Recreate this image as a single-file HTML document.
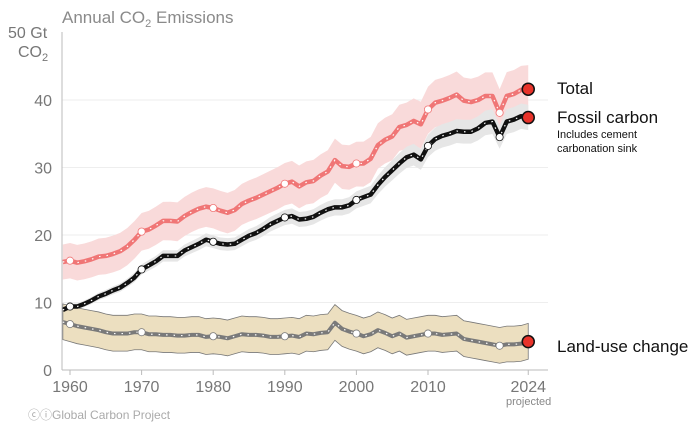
<!DOCTYPE html>
<html><head><meta charset="utf-8"><style>
body{margin:0;background:#fff;width:700px;height:429px;overflow:hidden}
svg text{font-family:"Liberation Sans",sans-serif}
</style></head><body>
<svg id="c" width="700" height="429">
<text x="62" y="23" font-size="17" fill="#8a8a8a">Annual CO<tspan font-size="11" dy="4">2</tspan><tspan dy="-4"> Emissions</tspan></text>
<text x="8" y="38" font-size="16" fill="#777">50 Gt</text>
<text x="18" y="57" font-size="16" fill="#777">CO<tspan font-size="11" dy="4">2</tspan></text>
<g id="grid"></g><g id="bands"></g><g id="lines"></g><g id="axes"></g>
<text x="557" y="94" font-size="17" fill="#111">Total</text>
<text x="557" y="123" font-size="17" fill="#111">Fossil carbon</text>
<text x="557" y="138" font-size="11" fill="#111">Includes cement</text>
<text x="557" y="152" font-size="11" fill="#111">carbonation sink</text>
<text x="557" y="352" font-size="17" fill="#111">Land-use change</text>
<text x="506" y="405" font-size="11" fill="#888">projected</text>
<text x="28" y="419" font-size="12" fill="#aaa">ⓒⓘGlobal Carbon Project</text>
</svg>
<script>
const startYear=1959;
const fossil=[8.9,9.4,9.4,9.8,10.3,10.9,11.3,11.8,12.2,12.9,13.7,14.9,15.5,16.1,16.9,16.9,16.9,17.7,18.2,18.7,19.3,19.0,18.7,18.6,18.7,19.3,19.9,20.3,20.9,21.6,22.1,22.6,22.8,22.3,22.4,22.7,23.3,23.8,24.1,24.1,24.4,25.2,25.6,26.0,27.4,28.6,29.6,30.6,31.5,31.9,31.2,33.2,34.2,34.7,35.0,35.4,35.3,35.3,35.8,36.6,36.8,34.5,36.8,37.1,37.6,37.4];
const luc=[7.1,6.8,6.5,6.3,6.1,5.9,5.6,5.4,5.4,5.4,5.6,5.6,5.3,5.3,5.2,5.2,5.1,5.1,5.2,5.2,4.9,5.0,4.9,4.7,5.0,5.3,5.2,5.2,5.1,4.9,4.9,5.0,5.1,4.9,5.4,5.3,5.5,5.6,7.0,6.1,5.7,5.4,5.0,5.3,5.9,5.5,5.0,5.4,4.8,5.0,5.2,5.4,5.4,5.2,5.3,5.4,4.6,4.4,4.2,4.0,3.8,3.6,3.8,3.8,3.9,4.2];
const yTicks=[0,10,20,30,40];
const xTicks=[1960,1970,1980,1990,2000,2010,2024];
const X=y=>70+(y-1960)*7.16, Y=v=>370-v*6.75;
const NS='http://www.w3.org/2000/svg';
function mk(p,t,a){const e=document.createElementNS(NS,t);for(const k in a)e.setAttribute(k,a[k]);document.getElementById(p).appendChild(e);return e;}
const total=fossil.map((f,i)=>f+luc[i]);
const years=fossil.map((_,i)=>startYear+i);
yTicks.forEach(t=>{
 if(t>0){const g=mk('grid','line',{x1:62,x2:548,y1:Y(t),y2:Y(t),stroke:'#eee'});
 }
 const tk=mk('axes','text',{x:52,y:Y(t)+6,'font-size':16,fill:'#777','text-anchor':'end'});tk.textContent=t;
 
});
mk('axes','line',{x1:62,x2:62,y1:32,y2:370,stroke:'#bbb'});
mk('axes','line',{x1:62,x2:548,y1:370,y2:370,stroke:'#bbb'});
xTicks.forEach(t=>{mk('axes','line',{x1:X(t),x2:X(t),y1:370,y2:375,stroke:'#bbb'});
 const tx=mk('axes','text',{x:X(t),y:392,'font-size':16,fill:'#777','text-anchor':'middle'});tx.textContent=t;
 });
function band(lo,hi,fill,stroke,name){
 let d='M'+years.map((y,i)=>X(y)+','+Y(hi[i])).join('L')+'L'+years.slice().reverse().map((y,j)=>{const i=years.length-1-j;return X(y)+','+Y(lo[i]);}).join('L')+'Z';
 const p=mk('bands','path',{d,fill,stroke:stroke||'none','stroke-width':0.8});
 }
band(total.map((v,i)=>v-2.6-i*0.02),total.map((v,i)=>v+2.6+i*0.015),'#f9dada',null,'total-uncertainty-band');
band(fossil.map(v=>v*0.95),fossil.map(v=>v*1.05),'#e6e6e6',null,'fossil-uncertainty-band');
band(luc.map(v=>v-2.6),luc.map(v=>v+2.7),'#ecdfc0','#777','land-use-uncertainty-band');
function line(vals,col,w,name){
 const d='M'+years.map((y,i)=>X(y)+','+Y(vals[i])).join('L');
 const p=mk('lines','path',{d,fill:'none',stroke:col,'stroke-width':w,'stroke-linejoin':'round'});
 
 mk('lines','path',{d,fill:'none',stroke:'#fff','stroke-width':1.2,'stroke-dasharray':'1.5 6'});
 years.forEach((y,i)=>{if(y%10==0&&y>=1960){const c=mk('lines','circle',{cx:X(y),cy:Y(vals[i]),r:3.6,fill:'#fff',stroke:col,'stroke-width':0.8});
  }});
 const n=vals.length-1;
 const e=mk('lines','circle',{cx:X(years[n]),cy:Y(vals[n]),r:6,fill:'#e8332a',stroke:'#111','stroke-width':1.5});
 }
line(luc,'#7a7a7a',4,'land-use-line');
line(total,'#f07676',4.5,'total-line');
line(fossil,'#111',4.5,'fossil-line');
</script>
</body></html>
